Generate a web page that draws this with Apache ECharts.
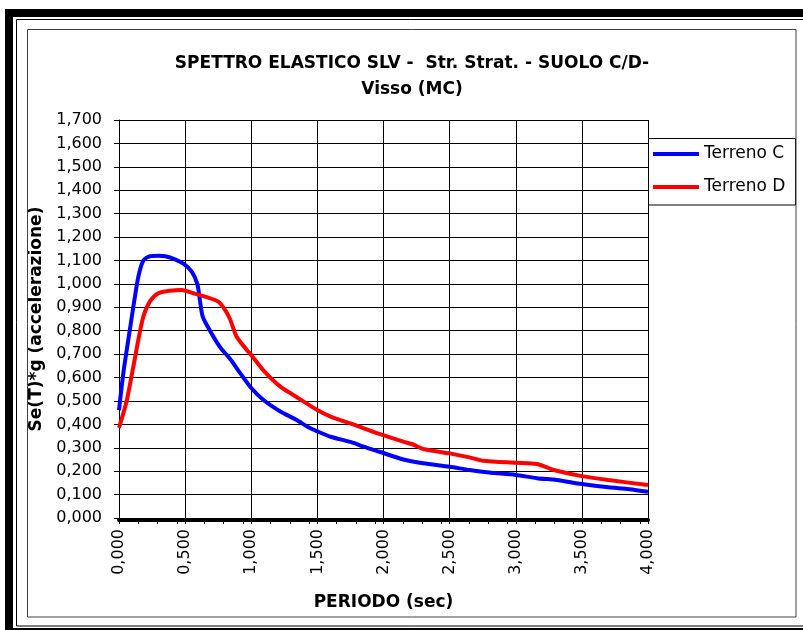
<!DOCTYPE html>
<html>
<head>
<meta charset="utf-8">
<script src="https://cdn.jsdelivr.net/npm/echarts@6/dist/echarts.min.js"></script>
<style>
  html, body { margin: 0; padding: 0; background: #ffffff; }
  #chart { width: 803px; height: 630px; }
</style>
</head>
<body>
<div id="chart"></div>
<script>
// Elastic response spectrum SLV, Visso (MC): period T [s] vs Se(T)*g
const periodC = [0, 0.033, 0.07, 0.108, 0.146, 0.184, 0.234, 0.30, 0.35, 0.423, 0.49, 0.55, 0.592, 0.612, 0.633, 0.688, 0.764, 0.839, 0.915, 1.0, 1.09, 1.22, 1.34, 1.44, 1.5, 1.6, 1.75, 1.85, 1.97, 2.15, 2.3, 2.5, 2.65, 2.8, 3.0, 3.16, 3.31, 3.5, 3.7, 3.86, 4.0];
const seC = [0.46, 0.62, 0.76, 0.90, 1.03, 1.10, 1.118, 1.12, 1.118, 1.105, 1.085, 1.052, 1.0, 0.93, 0.86, 0.80, 0.73, 0.68, 0.62, 0.555, 0.505, 0.455, 0.42, 0.385, 0.37, 0.347, 0.325, 0.305, 0.283, 0.250, 0.234, 0.219, 0.205, 0.194, 0.184, 0.170, 0.162, 0.145, 0.131, 0.123, 0.112];

const periodD = [0, 0.058, 0.108, 0.146, 0.184, 0.234, 0.297, 0.386, 0.474, 0.562, 0.663, 0.751, 0.802, 0.839, 0.89, 0.966, 1.0, 1.09, 1.22, 1.34, 1.5, 1.6, 1.75, 1.85, 1.97, 2.15, 2.22, 2.3, 2.5, 2.65, 2.75, 3.0, 3.16, 3.24, 3.31, 3.5, 3.7, 4.0];
const seD = [0.385, 0.50, 0.645, 0.76, 0.86, 0.925, 0.96, 0.971, 0.974, 0.96, 0.943, 0.924, 0.889, 0.85, 0.774, 0.718, 0.696, 0.632, 0.561, 0.518, 0.461, 0.433, 0.404, 0.383, 0.359, 0.326, 0.315, 0.295, 0.276, 0.259, 0.245, 0.236, 0.231, 0.215, 0.202, 0.179, 0.162, 0.141];

const seriesNames = ['Terreno C', 'Terreno D'];
const seriesColors = ['#0000ff', '#ff0000'];
const titleText = 'SPETTRO ELASTICO SLV -  Str. Strat. - SUOLO C/D-\nVisso (MC)';
const xAxisName = 'PERIODO (sec)';
const yAxisName = 'Se(T)*g (accelerazione)';

// tick marks along the period axis
const periodTicks = [0, 0.146, 0.292, 0.438, 0.5, 0.646, 0.792, 0.938, 1.0, 1.146, 1.292, 1.438, 1.5,
  1.646, 1.792, 1.938, 2.0, 2.146, 2.292, 2.438, 2.5, 2.646, 2.792, 2.938, 3.0,
  3.146, 3.292, 3.438, 3.5, 3.646, 3.792, 3.938, 4.0];

const FONT = 'DejaVu Sans';
const comma3 = v => v.toFixed(3).replace('.', ',');

const chart = echarts.init(document.getElementById('chart'), null, { renderer: 'canvas' });

chart.setOption({
  backgroundColor: '#ffffff',
  animation: false,
  title: {
    text: titleText,
    left: 412,
    top: 51,
    textAlign: 'center',
    padding: 0,
    textStyle: { fontFamily: FONT, fontSize: 17, fontWeight: 'bold', color: '#000', lineHeight: 26 }
  },
  graphic: [
    // outer heavy frame
    { type: 'rect', z: 100, silent: true, shape: { x: 9, y: 13, width: 800, height: 619 },
      style: { fill: 'none', stroke: '#000', lineWidth: 8 } },
    // thin frame inside
    { type: 'rect', z: 100, silent: true, shape: { x: 16.5, y: 19.5, width: 800, height: 606.5 },
      style: { fill: 'none', stroke: '#000', lineWidth: 1 } },
    // chart area border
    { type: 'rect', z: 100, silent: true, shape: { x: 27.5, y: 29.5, width: 768.5, height: 587.5 },
      style: { fill: 'none', stroke: '#404040', lineWidth: 1 } },
    // legend box
    { type: 'rect', z: 1, silent: true, shape: { x: 648.5, y: 138.5, width: 147, height: 66.5 },
      style: { fill: '#fff', stroke: '#000', lineWidth: 1 } }
  ],
  legend: {
    data: seriesNames,
    orient: 'vertical',
    left: 653,
    top: 144,
    padding: 0,
    itemWidth: 46,
    itemHeight: 4,
    itemGap: 13,
    icon: 'rect',
    z: 5,
    textStyle: { fontFamily: FONT, fontSize: 17, color: '#000', lineHeight: 20 }
  },
  grid: { left: 119, top: 120, width: 529, height: 398, containLabel: false },
  xAxis: [
    {
      type: 'value',
      min: 0,
      max: 4,
      interval: 0.5,
      offset: 2,
      name: xAxisName,
      nameLocation: 'middle',
      nameGap: 74,
      nameTextStyle: { fontFamily: FONT, fontSize: 17, fontWeight: 'bold', color: '#000' },
      axisLine: { show: false, onZero: false },
      axisTick: { show: false },
      axisLabel: {
        rotate: 90, margin: 9, color: '#000', fontFamily: FONT, fontSize: 16,
        formatter: comma3
      },
      splitLine: { show: true, lineStyle: { color: '#000', width: 1 } }
    },
    {
      // heavy baseline with its tick marks
      type: 'value',
      min: 0,
      max: 4,
      position: 'bottom',
      offset: 2,
      axisLine: { show: true, onZero: false, lineStyle: { color: '#000', width: 4 } },
      axisTick: { show: true, customValues: periodTicks, length: 4, lineStyle: { color: '#000', width: 1 } },
      axisLabel: { show: false },
      splitLine: { show: false }
    }
  ],
  yAxis: {
    type: 'value',
    min: 0,
    max: 1.7,
    interval: 0.1,
    name: yAxisName,
    nameLocation: 'middle',
    nameGap: 63,
    nameTextStyle: { fontFamily: FONT, fontSize: 17, fontWeight: 'bold', color: '#000' },
    axisLine: { show: true, lineStyle: { color: '#000', width: 1 } },
    axisTick: { show: true, length: 5, lineStyle: { color: '#000', width: 1 } },
    axisLabel: { margin: 17, color: '#000', fontFamily: FONT, fontSize: 16, formatter: comma3 },
    splitLine: { show: true, lineStyle: { color: '#000', width: 1 } }
  },
  series: [
    {
      name: seriesNames[0],
      type: 'line',
      xAxisIndex: 0,
      data: periodC.map((t, i) => [t, seC[i]]),
      showSymbol: false,
      smooth: 0.25,
      color: seriesColors[0],
      lineStyle: { width: 4, color: seriesColors[0] },
      z: 3
    },
    {
      name: seriesNames[1],
      type: 'line',
      xAxisIndex: 0,
      data: periodD.map((t, i) => [t, seD[i]]),
      showSymbol: false,
      smooth: 0.25,
      color: seriesColors[1],
      lineStyle: { width: 4, color: seriesColors[1] },
      z: 4
    }
  ]
});
</script>
</body>
</html>
